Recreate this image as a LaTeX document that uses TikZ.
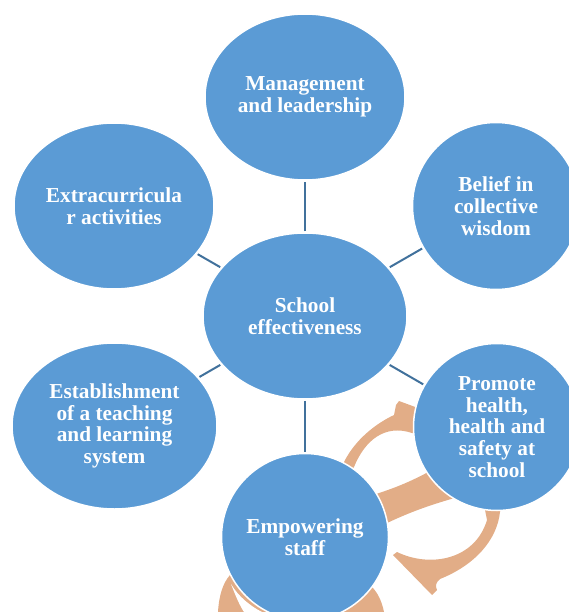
\documentclass[tikz,border=0pt]{standalone}
\usepackage{fontspec}
\setmainfont{Liberation Serif}
\usetikzlibrary{shapes.geometric}
\definecolor{bubbleblue}{RGB}{91,155,213}
\definecolor{spokeblue}{RGB}{65,113,156}
\definecolor{arcorange}{RGB}{226,173,135}

\begin{document}
\begin{tikzpicture}[x=1pt,y=-1pt,
    bubble/.style={fill=bubbleblue,draw=white,line width=1.5pt,text=white,
      font=\fontsize{21.3}{21.8}\selectfont\bfseries,align=center,inner sep=0pt},
    oval/.style={bubble,ellipse,minimum width=200pt,minimum height=166pt},
    disc/.style={bubble,circle,minimum size=167pt},
    spoke/.style={draw=spokeblue,line width=2pt,shorten <=1pt,shorten >=1pt}]
    \useasboundingbox (0,0) rectangle (569,612);
    \clip (0,0) rectangle (569,612);
    % orange arrow pieces behind the circles
    \fill[arcorange] (335,470) -- (344,462) .. controls (355,440) and (375,424) .. (394,415)
        -- (396,405) -- (399,401) -- (418,408) -- (418,433) -- (412,433)
        .. controls (385,424) and (365,440) .. (354,467) -- (345,480) -- cycle;
    \fill[arcorange] (370,496) .. controls (395,488) and (410,482) .. (432,470)
        -- (458,497) .. controls (430,505) and (410,512) .. (385,524) -- cycle;
    \fill[arcorange] (502,505) -- (500,512) .. controls (497,540) and (475,565) .. (440,579)
        .. controls (436,582) and (435,586) .. (437,590) -- (432,595) -- (393,555) -- (397,552)
        .. controls (430,568) and (475,560) .. (487,520) -- (484,505) -- cycle;
    \fill[arcorange] (218,612) .. controls (219,595) and (223,583) .. (230,575)
        -- (262,575) -- (275,612) -- cycle;
    \fill[white] (231,584) .. controls (236,597) and (240,606) .. (244,612)
        -- (262,612) .. controls (250,606) and (238,596) .. (231,584) -- cycle;
    \fill[arcorange] (350,585) -- (372,587) .. controls (378,593) and (382,602) .. (384,612)
        -- (340,612) -- cycle;
    % the seven bubbles
    \node[oval] (mgmt) at (305,97) {Management\\and leadership};
    \node[oval] (extra) at (114,206) {Extracurricula\\r activities};
    \node[disc] (belief) at (496,206) {Belief in\\collective\\wisdom};
    \node[oval,minimum width=204pt] (school) at (305,316) {School\\effectiveness};
    \node[oval,minimum width=205pt] (teach) at (114.5,426) {Establishment\\of a teaching\\and learning\\system};
    \node[disc] (health) at (497,427) {Promote\\health,\\health and\\safety at\\school};
    \node[disc] (staff) at (305,537) {Empowering\\staff};
    \foreach \n in {mgmt,extra,belief,teach,health,staff}
        \draw[spoke] (school) -- (\n);
\end{tikzpicture}
\end{document}
